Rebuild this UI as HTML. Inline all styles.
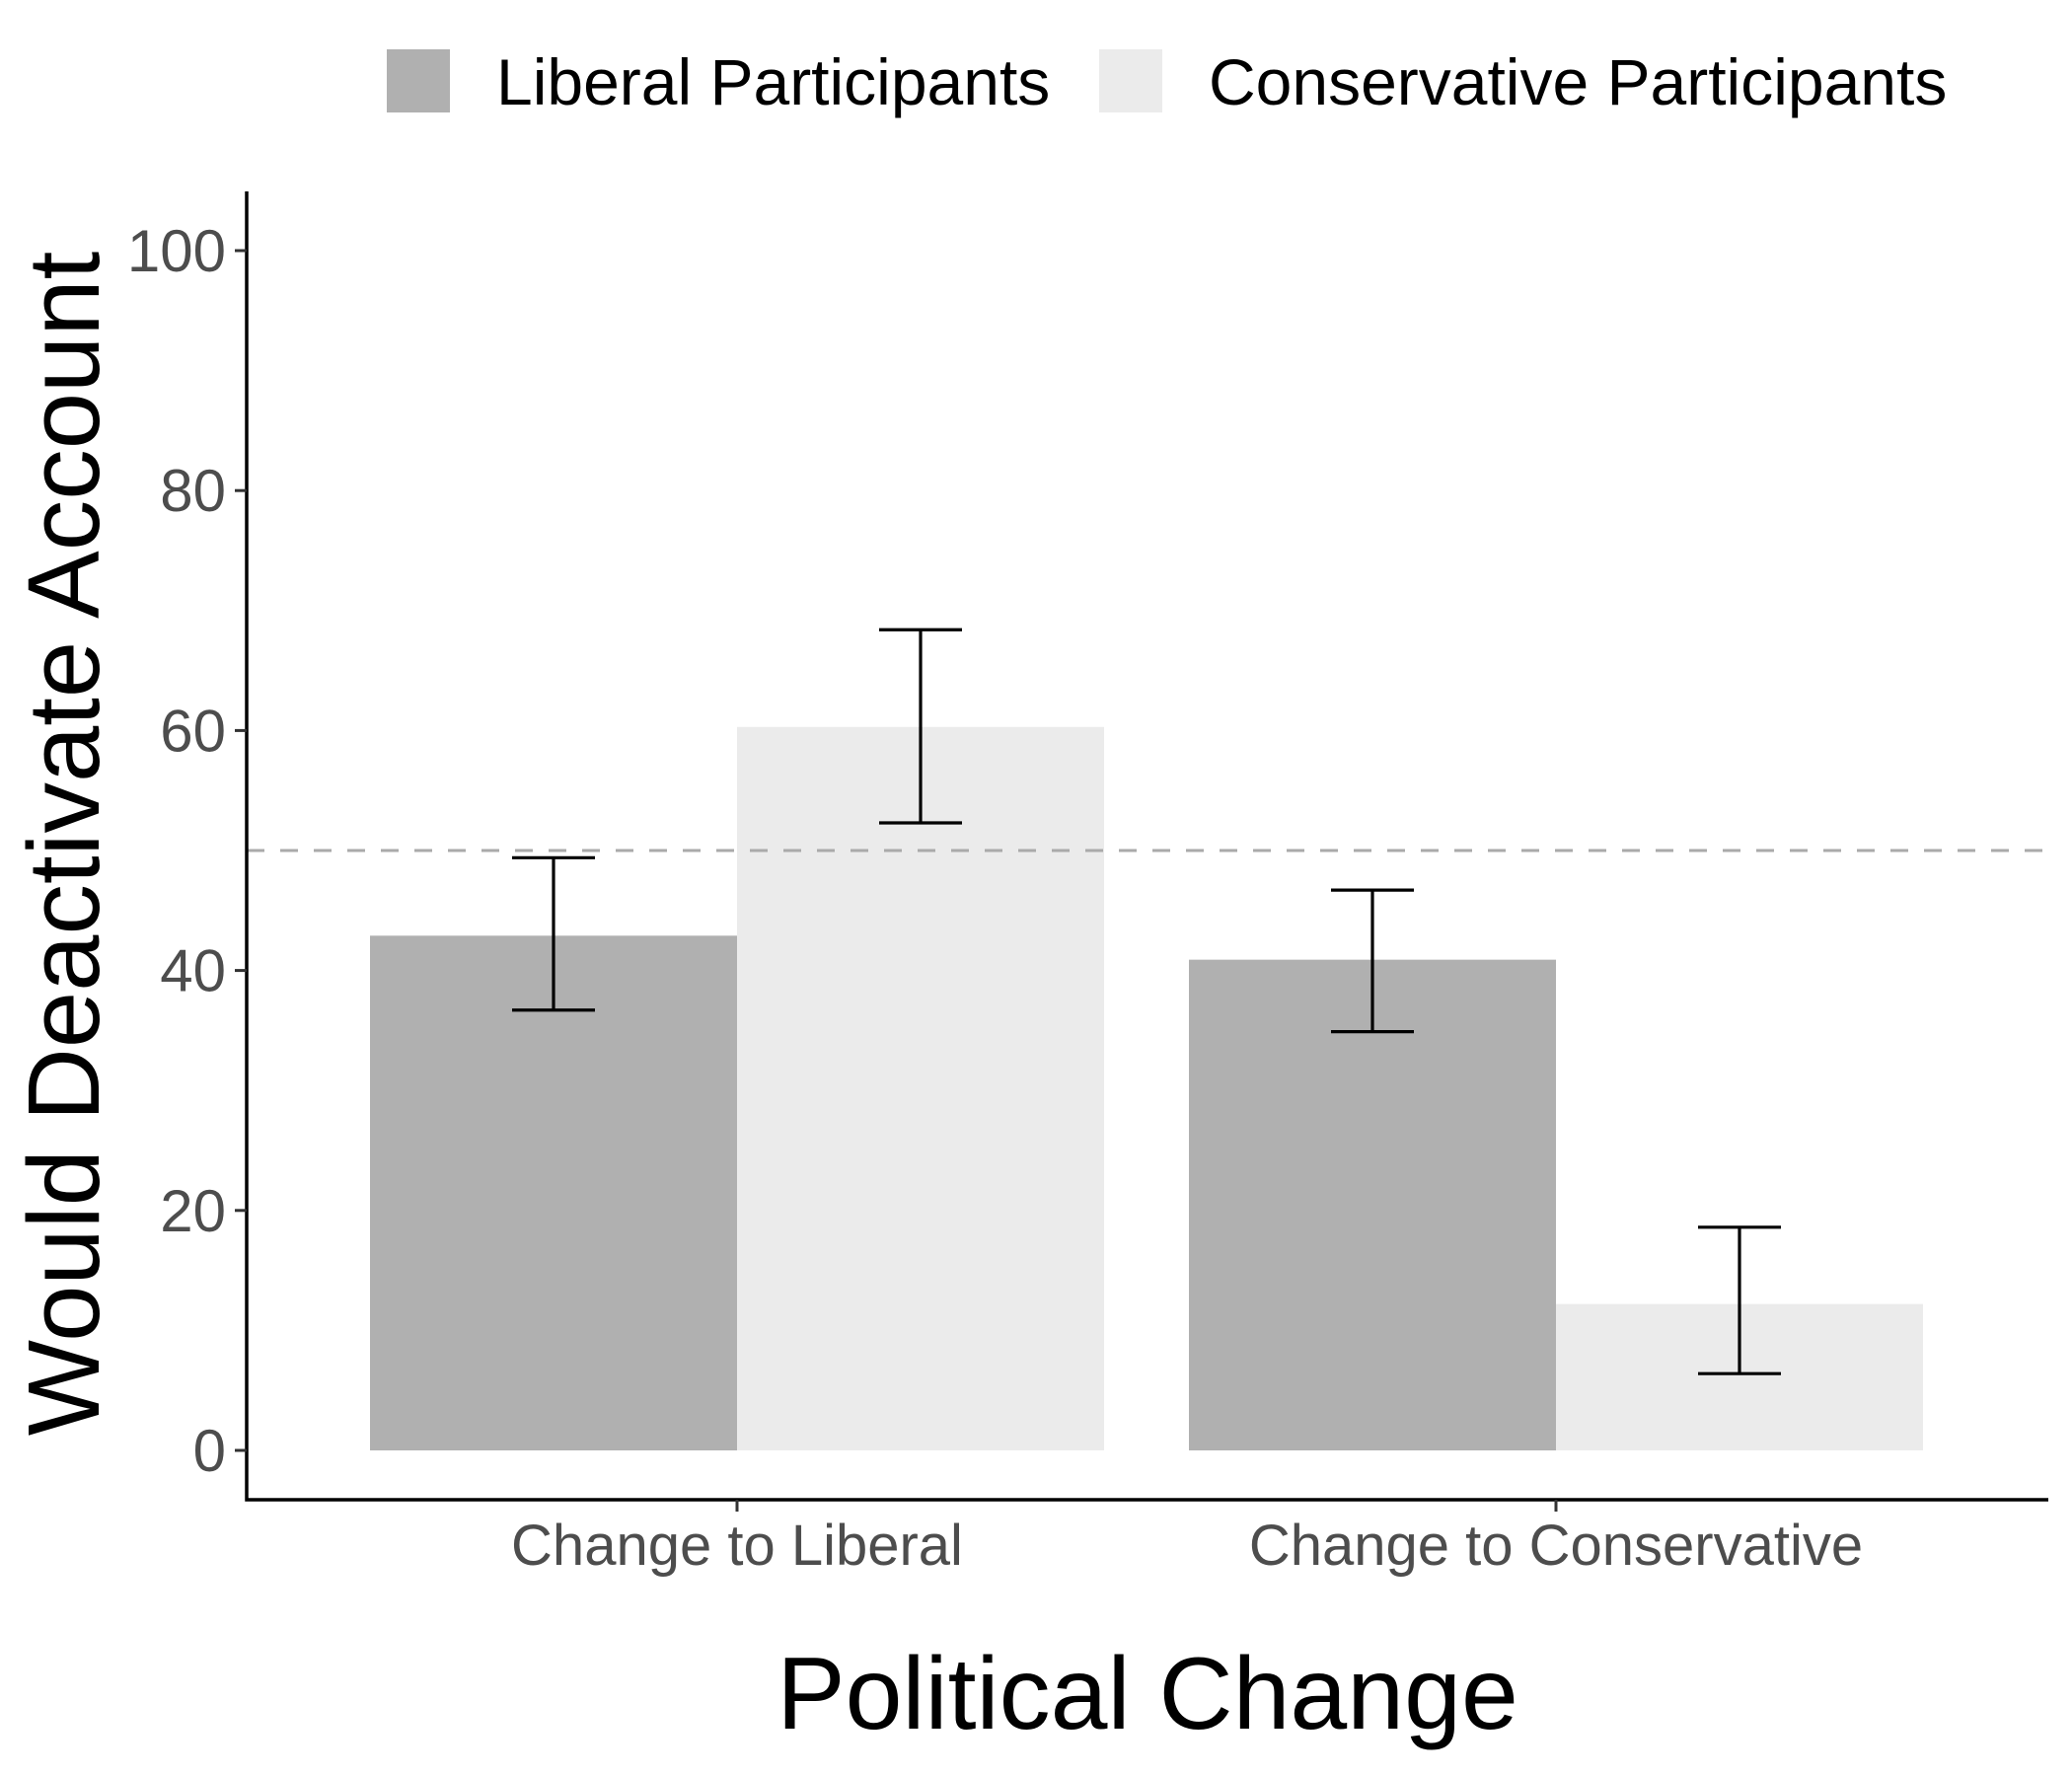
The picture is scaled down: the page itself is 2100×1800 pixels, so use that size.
<!DOCTYPE html>
<html><head><meta charset="utf-8"><style>
html,body{margin:0;padding:0;background:#fff;}
svg{display:block;font-family:"Liberation Sans",Arial,sans-serif;}
</style></head><body>
<svg id="chart" width="2100" height="1800" viewBox="0 0 2100 1800"></svg>
<script>
const categories = ["Change to Liberal", "Change to Conservative"];
const groups = ["Liberal Participants", "Conservative Participants"];
const liberalValues = [42.9, 40.9];
const conservativeValues = [60.3, 12.2];
const liberalLow = [36.7, 34.9];
const liberalHigh = [49.4, 46.7];
const conservativeLow = [52.3, 6.4];
const conservativeHigh = [68.4, 18.6];
const yTicks = [0, 20, 40, 60, 80, 100];
const refValue = 50;

const NS = "http://www.w3.org/2000/svg";
const svg = document.getElementById("chart");
const X0 = 250, X1 = 2076, YTOP = 194, YAX = 1520;
const Y0px = 1470, Y100px = 254;
function y(v){ return Y0px + (Y100px - Y0px) * v / 100; }
const bandStart = 375, bandStep = 830, barW = 372;
function xBar(ci, gi){ return bandStart + ci * bandStep + gi * barW; }
function el(tag, attrs, parent){
  const e = document.createElementNS(NS, tag);
  for (const k in attrs) e.setAttribute(k, attrs[k]);
  (parent || svg).appendChild(e);
  return e;
}
const colors = ["#b0b0b0", "#ebebeb"];
const vals = [liberalValues, conservativeValues];
const lows = [liberalLow, conservativeLow];
const highs = [liberalHigh, conservativeHigh];

for (let ci = 0; ci < categories.length; ci++) {
  for (let gi = 0; gi < 2; gi++) {
    const v = vals[gi][ci];
    const r = el("rect", {x: xBar(ci, gi), y: y(v), width: barW, height: y(0) - y(v), fill: colors[gi]});
    
    
  }
}
const ref = el("line", {x1: X0, x2: X1, y1: y(refValue), y2: y(refValue), stroke: "#aaaaaa", "stroke-width": 3, "stroke-dasharray": "18 16"});


for (let ci = 0; ci < categories.length; ci++) {
  for (let gi = 0; gi < 2; gi++) {
    const cx = xBar(ci, gi) + barW / 2;
    const g = el("g", {stroke: "#000", "stroke-width": 3.2});
    
    
    el("line", {x1: cx, x2: cx, y1: y(lows[gi][ci]), y2: y(highs[gi][ci])}, g);
    el("line", {x1: cx - 42, x2: cx + 42, y1: y(lows[gi][ci]), y2: y(lows[gi][ci])}, g);
    el("line", {x1: cx - 42, x2: cx + 42, y1: y(highs[gi][ci]), y2: y(highs[gi][ci])}, g);
  }
}
const ax = el("path", {d: `M${X0},${YTOP} L${X0},${YAX} L${X1},${YAX}`, fill: "none", stroke: "#000", "stroke-width": 3.5});


for (const t of yTicks) {
  const tl = el("line", {x1: 238, x2: X0, y1: y(t), y2: y(t), stroke: "#333", "stroke-width": 3});
  
  
  const tx = el("text", {x: 229, y: y(t) + 21, "text-anchor": "end", "font-size": 60, fill: "#4d4d4d"});
  tx.textContent = t;
  
  
}
for (let ci = 0; ci < categories.length; ci++) {
  const cx = xBar(ci, 1);
  const tl = el("line", {x1: cx, x2: cx, y1: YAX, y2: YAX + 12, stroke: "#333", "stroke-width": 3});
  
  
  const tx = el("text", {x: cx, y: 1586, "text-anchor": "middle", "font-size": 58, fill: "#4d4d4d"});
  tx.textContent = categories[ci];
  
  
}
const xt = el("text", {x: 1163, y: 1752, "text-anchor": "middle", "font-size": 104, fill: "#000"});
xt.textContent = "Political Change";


const yt = el("text", {x: 0, y: 0, "text-anchor": "middle", "font-size": 103, fill: "#000", transform: "translate(100,855) rotate(-90)"});
yt.textContent = "Would Deactivate Account";


const legX = [392, 1114];
for (let gi = 0; gi < 2; gi++) {
  const g = el("g", {});
  
  
  el("rect", {x: legX[gi], y: 50, width: 64, height: 64, fill: colors[gi]}, g);
  const t = el("text", {x: legX[gi] + 111, y: 106, "font-size": 66, fill: "#000"}, g);
  t.textContent = groups[gi];
}
</script>
</body></html>
